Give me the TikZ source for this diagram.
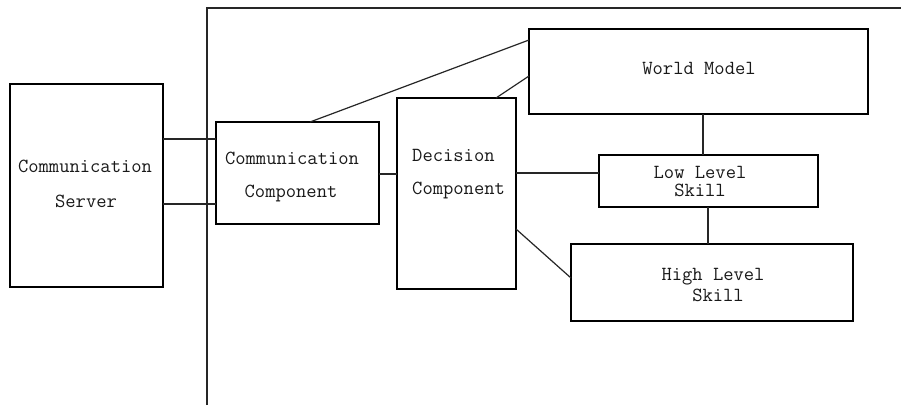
\documentclass[tikz,border=0pt]{standalone}
\usetikzlibrary{calc}
\begin{document}
\begin{tikzpicture}[x=1pt,y=-1pt,
  box/.style={draw, line width=1.3pt, rectangle, anchor=north west, inner sep=0pt, outer sep=0pt},
  lbl/.style={inner sep=0pt, font=\ttfamily\fontsize{20}{20}\selectfont, text=black!90},
  conn/.style={line width=1.2pt, draw=black!85}]
\useasboundingbox (0,0) rectangle (901,405);
\fill[white] (0,0) rectangle (901,405);
% frame lines
\coordinate (fb) at (207,405);
\coordinate (fc) at (207,8);
\coordinate (fr) at (901,8);
\draw[conn] (fb) -- (fc) -- (fr);
% boxes
\node[box, minimum width=153, minimum height=203] (cs) at (10,84) {};
\node[box, minimum width=163, minimum height=102] (cc) at (216,122) {};
\node[box, minimum width=119, minimum height=191] (dc) at (397,98) {};
\node[box, minimum width=339, minimum height=85] (wm) at (529,29) {};
\node[box, minimum width=219, minimum height=52] (ll) at (599,155) {};
\node[box, minimum width=282, minimum height=77] (hl) at (571,244) {};
% labels
\node[lbl] (cs1) at (85,166) {Communication};
\node[lbl] (cs2) at (86,201) {Server};
\node[lbl] (cc1) at (292,158) {Communication};
\node[lbl] (cc2) at (291,193) {Component};
\node[lbl, anchor=west] (dc1) at (412,155) {Decision};
\node[lbl, anchor=west] (dc2) at (412,190) {Component};
\node[lbl] (wm1) at (699,68) {World Model};
\node[lbl] (ll1) at (700,172) {Low Level};
\node[lbl] (ll2) at (700,190) {Skill};
\node[lbl] (hl1) at (713,277) {High Level};
\node[lbl] (hl2) at (718,295) {Skill};
% connectors
\draw[conn] (cs.east |- 0,139) -- (cc.west |- 0,139);
\draw[conn] (cs.east |- 0,204) -- (cc.west |- 0,204);
\draw[conn] (310,0 |- cc.north) -- (wm.west |- 0,40);
\draw[conn] (496,0 |- dc.north) -- (wm.west |- 0,76);
\draw[conn] (cc.east |- 0,174) -- (dc.west |- 0,174);
\draw[conn] (dc.east |- 0,173) -- (ll.west |- 0,173);
\draw[conn] (703,0 |- wm.south) -- (703,0 |- ll.north);
\draw[conn] (708,0 |- ll.south) -- (708,0 |- hl.north);
\draw[conn] (dc.east |- 0,229) -- (hl.west |- 0,278);
\end{tikzpicture}
\end{document}
